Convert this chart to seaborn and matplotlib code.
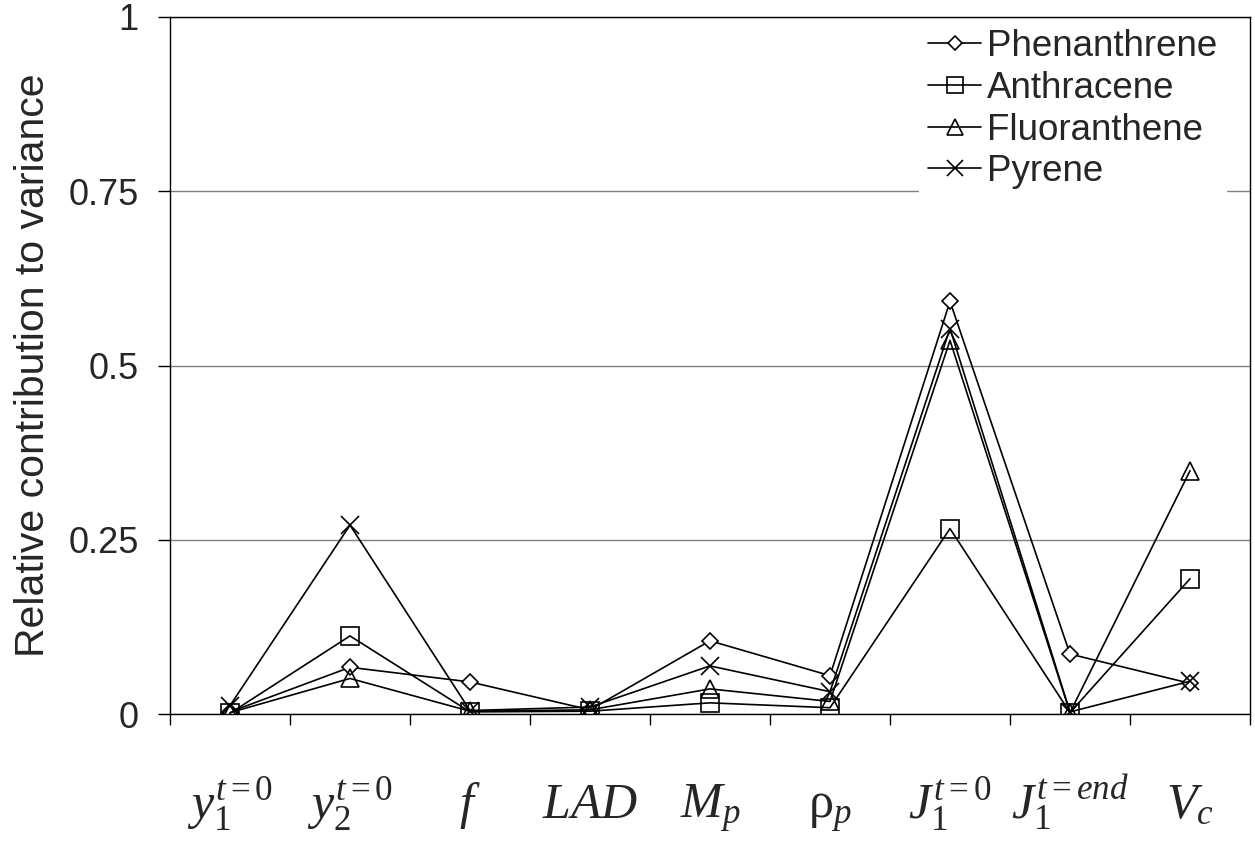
import numpy as np
import pandas as pd
import seaborn as sns
from matplotlib import pyplot as plt

sns.set_style("ticks")
plt.rcParams['font.family'] = ['Liberation Sans', 'DejaVu Sans']
plt.rcParams['mathtext.fontset'] = 'custom'
plt.rcParams['mathtext.rm'] = 'Liberation Serif'
plt.rcParams['mathtext.it'] = 'Liberation Serif:italic'
plt.rcParams['mathtext.bf'] = 'Liberation Serif:bold'

# parameters on the x axis
params = ['y1', 'y2', 'f', 'LAD', 'Mp', 'rho_p', 'J1_0', 'J1_end', 'Vc']
param_labels = [r'$y_1^{t=0}$', r'$y_2^{t=0}$', r'$f$', r'$LAD$', r'$M_p$',
                r'$\mathrm{\rho}_p$', r'$J_1^{t=0}$', r'$J_1^{t=end}$', r'$V_c$']

# relative contribution to variance
phenanthrene = [0.003, 0.067, 0.046, 0.006, 0.105, 0.055, 0.592, 0.086, 0.044]
anthracene = [0.001, 0.112, 0.003, 0.004, 0.016, 0.009, 0.266, 0.002, 0.194]
fluoranthene = [0.002, 0.051, 0.004, 0.006, 0.036, 0.018, 0.536, 0.002, 0.349]
pyrene = [0.012, 0.271, 0.005, 0.010, 0.069, 0.032, 0.553, 0.003, 0.047]

compounds = ['Phenanthrene', 'Anthracene', 'Fluoranthene', 'Pyrene']
series = [phenanthrene, anthracene, fluoranthene, pyrene]

rows = []
for name, vals in zip(compounds, series):
    for i, v in enumerate(vals):
        rows.append({'compound': name, 'param': params[i], 'pos': i, 'value': v})
df = pd.DataFrame(rows)

styles = {
    'Phenanthrene': dict(marker='D', markersize=8.5, markerfacecolor='white'),
    'Anthracene': dict(marker='s', markersize=13, markerfacecolor='none'),
    'Fluoranthene': dict(marker='^', markersize=13.5, markerfacecolor='none'),
    'Pyrene': dict(marker='x', markersize=13),
}

fig = plt.figure(figsize=(12.55, 8.43), dpi=100)
ax = fig.add_axes([170 / 1255, 1 - 714 / 843, 1080 / 1255, 697 / 843])

for name in compounds:
    sub = df[df['compound'] == name]
    sns.lineplot(data=sub, x='pos', y='value', ax=ax, color='black', lw=1.2,
                 markeredgecolor='black', markeredgewidth=1.2, label=name,
                 sort=False, **styles[name])

ax.set_xlim(-0.5, len(params) - 0.5)
ax.set_ylim(0, 1)

ax.set_yticks([0, 0.25, 0.5, 0.75, 1])
ax.set_yticklabels(['0', '0.25', '0.5', '0.75', '1'])
ax.tick_params(axis='y', length=8.5, width=1, pad=14, labelsize=26, color='black')

ax.set_xticks(np.arange(len(params)))
ax.set_xticklabels(param_labels)
ax.set_xticks(np.arange(-0.5, len(params), 1), minor=True)
ax.tick_params(axis='x', which='major', length=0, pad=75, labelsize=36)
ax.tick_params(axis='x', which='minor', length=8, width=1, color='black')
for lbl in ax.get_xticklabels():
    lbl.set_verticalalignment('baseline')

ax.yaxis.grid(True, color='#808080', lw=1)
ax.xaxis.grid(False)
for sp in ax.spines.values():
    sp.set_visible(True)
    sp.set_color('black')
    sp.set_linewidth(1)

ax.set_xlabel('')
ax.set_ylabel('Relative contribution to variance', fontsize=29.5, labelpad=12)

leg = ax.legend(loc='upper right', bbox_to_anchor=(0.985, 1.006), fontsize=26.5,
                frameon=True, fancybox=False, framealpha=1, facecolor='white',
                edgecolor='white', handlelength=1.45, handletextpad=0.15,
                labelspacing=0.18, borderpad=0.25, borderaxespad=0.2, markerscale=0.85)

fig.savefig('out.png', dpi=100)
